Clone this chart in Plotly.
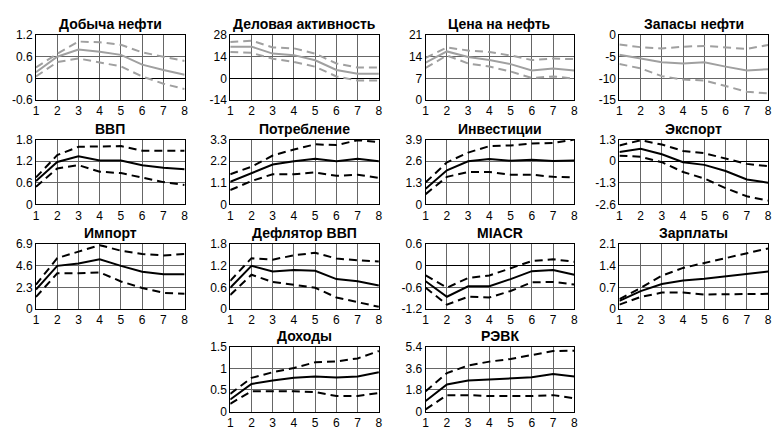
import plotly.graph_objects as go

HORIZON = [1, 2, 3, 4, 5, 6, 7, 8]

TITLES = ["Добыча нефти", "Деловая активность", "Цена на нефть", "Запасы нефти",
          "ВВП", "Потребление", "Инвестиции", "Экспорт",
          "Импорт", "Дефлятор ВВП", "MIACR", "Зарплаты",
          "Доходы", "РЭВК"]

# y tick labels per panel
TICKS = [
    ["-0.6", "0", "0.6", "1.2"],
    ["-14", "0", "14", "28"],
    ["0", "7", "14", "21"],
    ["-15", "-10", "-5", "0"],
    ["0", "0.6", "1.2", "1.8"],
    ["0", "1.1", "2.2", "3.3"],
    ["0", "1.3", "2.6", "3.9"],
    ["-2.6", "-1.3", "0", "1.3"],
    ["0", "2.3", "4.6", "6.9"],
    ["0", "0.6", "1.2", "1.8"],
    ["-1.2", "-0.6", "0", "0.6"],
    ["0", "0.7", "1.4", "2.1"],
    ["0", "0.5", "1", "1.5"],
    ["0", "1.8", "3.6", "5.4"],
]

oil_prod_mid = [0.17, 0.6, 0.8, 0.74, 0.65, 0.38, 0.23, 0.1]
oil_prod_hi = [0.3, 0.68, 1.02, 1.0, 0.93, 0.72, 0.6, 0.48]
oil_prod_lo = [0.05, 0.45, 0.55, 0.45, 0.33, 0.05, -0.15, -0.3]

business_mid = [20.5, 20.5, 16.0, 15.0, 11.7, 5.4, 3.0, 3.0]
business_hi = [23.5, 24.4, 20.0, 19.4, 16.0, 9.6, 7.0, 7.0]
business_lo = [17.0, 16.5, 12.7, 10.6, 7.5, 1.2, -1.5, -1.5]

oil_price_mid = [12.1, 15.7, 13.9, 12.9, 11.6, 9.5, 10.2, 9.5]
oil_price_hi = [13.6, 17.0, 16.0, 15.5, 14.4, 12.9, 13.4, 13.2]
oil_price_lo = [10.4, 14.4, 11.8, 10.8, 9.2, 7.1, 7.6, 6.9]

oil_stock_mid = [-4.55, -5.45, -6.3, -6.6, -6.3, -7.3, -8.2, -7.9]
oil_stock_hi = [-2.2, -2.8, -3.1, -2.7, -2.5, -2.8, -3.2, -2.3]
oil_stock_lo = [-6.7, -7.7, -9.5, -10.3, -10.5, -11.8, -13.1, -13.5]

gdp_mid = [0.65, 1.18, 1.34, 1.22, 1.22, 1.09, 1.02, 0.98]
gdp_hi = [0.75, 1.37, 1.6, 1.6, 1.62, 1.49, 1.49, 1.49]
gdp_lo = [0.49, 1.0, 1.09, 0.91, 0.87, 0.74, 0.62, 0.54]

cons_mid = [1.15, 1.58, 2.03, 2.2, 2.33, 2.2, 2.33, 2.2]
cons_hi = [1.54, 1.92, 2.49, 2.8, 3.06, 3.02, 3.27, 3.17]
cons_lo = [0.73, 1.19, 1.54, 1.54, 1.63, 1.46, 1.51, 1.35]

inv_mid = [0.94, 2.05, 2.6, 2.73, 2.63, 2.69, 2.61, 2.65]
inv_hi = [1.33, 2.53, 3.12, 3.51, 3.55, 3.66, 3.7, 3.9]
inv_lo = [0.62, 1.66, 1.95, 1.95, 1.79, 1.79, 1.66, 1.62]

exp_mid = [0.56, 0.75, 0.42, -0.06, -0.22, -0.59, -1.1, -1.29]
exp_hi = [0.95, 1.26, 1.0, 0.62, 0.48, 0.17, -0.16, -0.3]
exp_lo = [0.33, 0.27, -0.06, -0.65, -1.04, -1.62, -2.11, -2.37]

imp_mid = [2.07, 4.59, 4.83, 5.28, 4.59, 3.97, 3.69, 3.69]
imp_hi = [2.59, 5.41, 6.1, 6.79, 6.2, 5.86, 5.69, 5.86]
imp_lo = [1.28, 3.79, 3.79, 3.9, 2.93, 2.24, 1.72, 1.62]

defl_mid = [0.59, 1.2, 1.04, 1.08, 1.06, 0.83, 0.77, 0.65]
defl_hi = [0.78, 1.41, 1.37, 1.49, 1.56, 1.4, 1.35, 1.32]
defl_lo = [0.39, 0.95, 0.75, 0.68, 0.59, 0.32, 0.18, 0.06]

miacr_mid = [-0.43, -0.86, -0.57, -0.57, -0.37, -0.15, -0.12, -0.25]
miacr_hi = [-0.27, -0.61, -0.34, -0.27, -0.07, 0.13, 0.18, 0.11]
miacr_lo = [-0.61, -1.08, -0.86, -0.88, -0.7, -0.46, -0.45, -0.52]

wage_mid = [0.26, 0.58, 0.81, 0.92, 0.98, 1.05, 1.13, 1.21]
wage_hi = [0.32, 0.68, 1.08, 1.33, 1.49, 1.65, 1.79, 1.96]
wage_lo = [0.14, 0.39, 0.53, 0.53, 0.47, 0.47, 0.47, 0.49]

inc_mid = [0.28, 0.64, 0.72, 0.78, 0.81, 0.79, 0.81, 0.91]
inc_hi = [0.41, 0.78, 0.91, 1.01, 1.14, 1.16, 1.23, 1.4]
inc_lo = [0.18, 0.47, 0.47, 0.47, 0.45, 0.36, 0.36, 0.43]

reer_mid = [0.88, 2.25, 2.58, 2.66, 2.74, 2.85, 3.12, 2.93]
reer_hi = [1.7, 3.2, 3.84, 4.16, 4.38, 4.71, 5.04, 5.07]
reer_lo = [0.19, 1.37, 1.37, 1.29, 1.29, 1.29, 1.37, 1.1]

SERIES = [
    (oil_prod_mid, oil_prod_hi, oil_prod_lo),
    (business_mid, business_hi, business_lo),
    (oil_price_mid, oil_price_hi, oil_price_lo),
    (oil_stock_mid, oil_stock_hi, oil_stock_lo),
    (gdp_mid, gdp_hi, gdp_lo),
    (cons_mid, cons_hi, cons_lo),
    (inv_mid, inv_hi, inv_lo),
    (exp_mid, exp_hi, exp_lo),
    (imp_mid, imp_hi, imp_lo),
    (defl_mid, defl_hi, defl_lo),
    (miacr_mid, miacr_hi, miacr_lo),
    (wage_mid, wage_hi, wage_lo),
    (inc_mid, inc_hi, inc_lo),
    (reer_mid, reer_hi, reer_lo),
]

# layout (pixels)
W, H = 779, 436
COL_LEFT = [33.3, 229.3, 426.5, 622.0]
PANEL_W = 150.0
ROW_TOP = [29.0, 137.0, 245.0, 351.0]
PANEL_H = 67.0
GRID = [(0, 0), (0, 1), (0, 2), (0, 3),
        (1, 0), (1, 1), (1, 2), (1, 3),
        (2, 0), (2, 1), (2, 2), (2, 3),
        (3, 1), (3, 2)]

FONT = "Liberation Sans, Arial, sans-serif"

fig = go.Figure()
annotations = []
layout_axes = {}

for i, (title, ticks, (mid, hi, lo), (r, c)) in enumerate(zip(TITLES, TICKS, SERIES, GRID)):
    n = i + 1
    xa = "x" if n == 1 else f"x{n}"
    ya = "y" if n == 1 else f"y{n}"
    color = "#a0a0a0" if r == 0 else "#000000"
    for vals, dash in ((hi, "8px,5px"), (lo, "8px,5px"), (mid, "solid")):
        fig.add_trace(go.Scatter(
            x=HORIZON, y=vals, mode="lines",
            line=dict(color=color, width=2, dash=dash),
            xaxis=xa, yaxis=ya, showlegend=False, hoverinfo="skip"))
    x0 = COL_LEFT[c] / W
    x1 = (COL_LEFT[c] + PANEL_W) / W
    y1 = 1 - ROW_TOP[r] / H
    y0 = 1 - (ROW_TOP[r] + PANEL_H) / H
    tickvals = [float(t) for t in ticks]
    layout_axes["xaxis" if n == 1 else f"xaxis{n}"] = dict(
        domain=[x0, x1], anchor=ya, range=[1, 8],
        tickvals=HORIZON, ticktext=[str(h) for h in HORIZON],
        showgrid=True, gridcolor="#666666", gridwidth=1,
        showline=True, linecolor="#000000", linewidth=1, mirror=True,
        zeroline=False, ticks="", tickfont=dict(family=FONT, size=12, color="#000"),
        fixedrange=True)
    layout_axes["yaxis" if n == 1 else f"yaxis{n}"] = dict(
        domain=[y0, y1], anchor=xa, range=[tickvals[0], tickvals[-1]],
        tickvals=tickvals, ticktext=ticks,
        showgrid=True, gridcolor="#666666", gridwidth=1,
        showline=True, linecolor="#000000", linewidth=1, mirror=True,
        zeroline=True, zerolinecolor="#000000", zerolinewidth=1,
        ticks="", tickfont=dict(family=FONT, size=12, color="#000"),
        fixedrange=True)
    annotations.append(dict(
        text=f"<b>{title}</b>", x=(x0 + x1) / 2, y=y1, xref="paper", yref="paper",
        xanchor="center", yanchor="bottom", yshift=1, showarrow=False,
        font=dict(family=FONT, size=14, color="#000")))

fig.update_layout(
    width=W, height=H, margin=dict(l=0, r=0, t=0, b=0),
    paper_bgcolor="white", plot_bgcolor="white",
    annotations=annotations, **layout_axes)

fig.write_html(
    "out.html",
    post_script="document.body.style.margin='0';document.body.style.overflow='hidden';")
